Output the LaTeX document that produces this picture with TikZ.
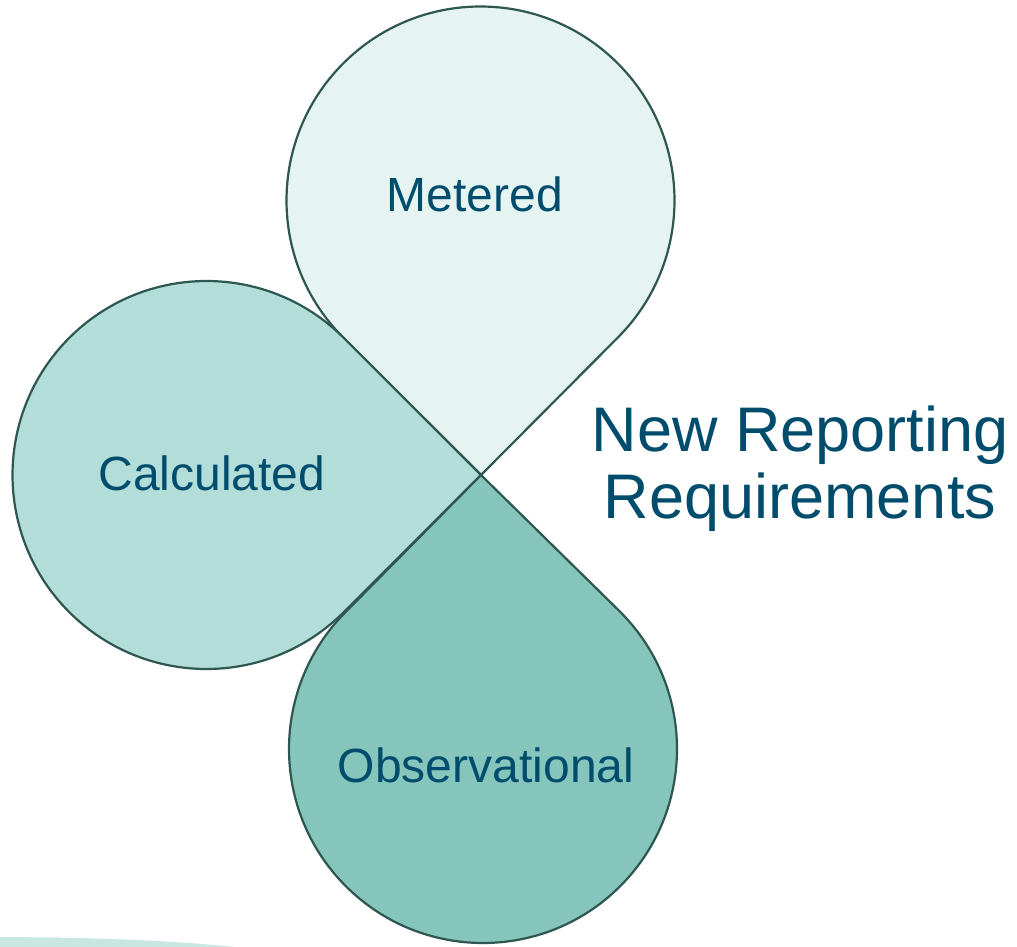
\documentclass[tikz,border=0pt]{standalone}
\usepackage{fontspec}
\setmainfont{Liberation Sans}
\usetikzlibrary{calc}
\definecolor{edgec}{HTML}{2E5751}
\definecolor{fillA}{HTML}{E5F4F1}
\definecolor{fillB}{HTML}{B3DDD8}
\definecolor{fillC}{HTML}{86C5BC}
\definecolor{txtc}{HTML}{004C6C}
\definecolor{swoosh}{HTML}{C8E7E1}
\tikzset{
  petal/.style={draw=edgec, line width=2.2pt, line join=round},
  lbl/.style={text=txtc, font=\fontsize{48}{58}\selectfont, inner sep=0pt},
  bigl/.style={text=txtc, font=\fontsize{63}{67}\selectfont, align=center, inner sep=0pt}
}
\begin{document}
\begin{tikzpicture}[x=1pt,y=1pt]
\useasboundingbox (0,0) rectangle (1017,-947);
\fill[white] (0,0) rectangle (1017,-947);
% swoosh
\fill[swoosh] (0,-937) .. controls (100,-937.5) and (180,-941) .. (235,-947) -- (0,-947) -- cycle;
\def\r{194}
\coordinate (O) at (481,-475);
\coordinate (cM) at (480.5,-200.5);
\coordinate (cC) at (206.5,-475);
\coordinate (cO) at (483,-749);
% Metered
\filldraw[petal, fill=fillA] (O) -- ($(cM)+(315:\r)$) arc[start angle=315, end angle=585, radius=\r] -- cycle;
% Calculated
\filldraw[petal, fill=fillB] (O) -- ($(cC)+(45:\r)$) arc[start angle=45, end angle=315, radius=\r] -- cycle;
% Observational
\filldraw[petal, fill=fillC] (O) -- ($(cO)+(135:\r)$) arc[start angle=135, end angle=405, radius=\r] -- cycle;
\node[lbl, anchor=base] (met) at (475,-211) {Metered};
\node[lbl, anchor=base] (cal) at (212,-490) {Calculated};
\node[lbl, anchor=base] (obs) at (486,-782) {Observational};
\node[bigl, anchor=center] (nrr) at (800,-469) {New Reporting\\Requirements};
\end{tikzpicture}
\end{document}
